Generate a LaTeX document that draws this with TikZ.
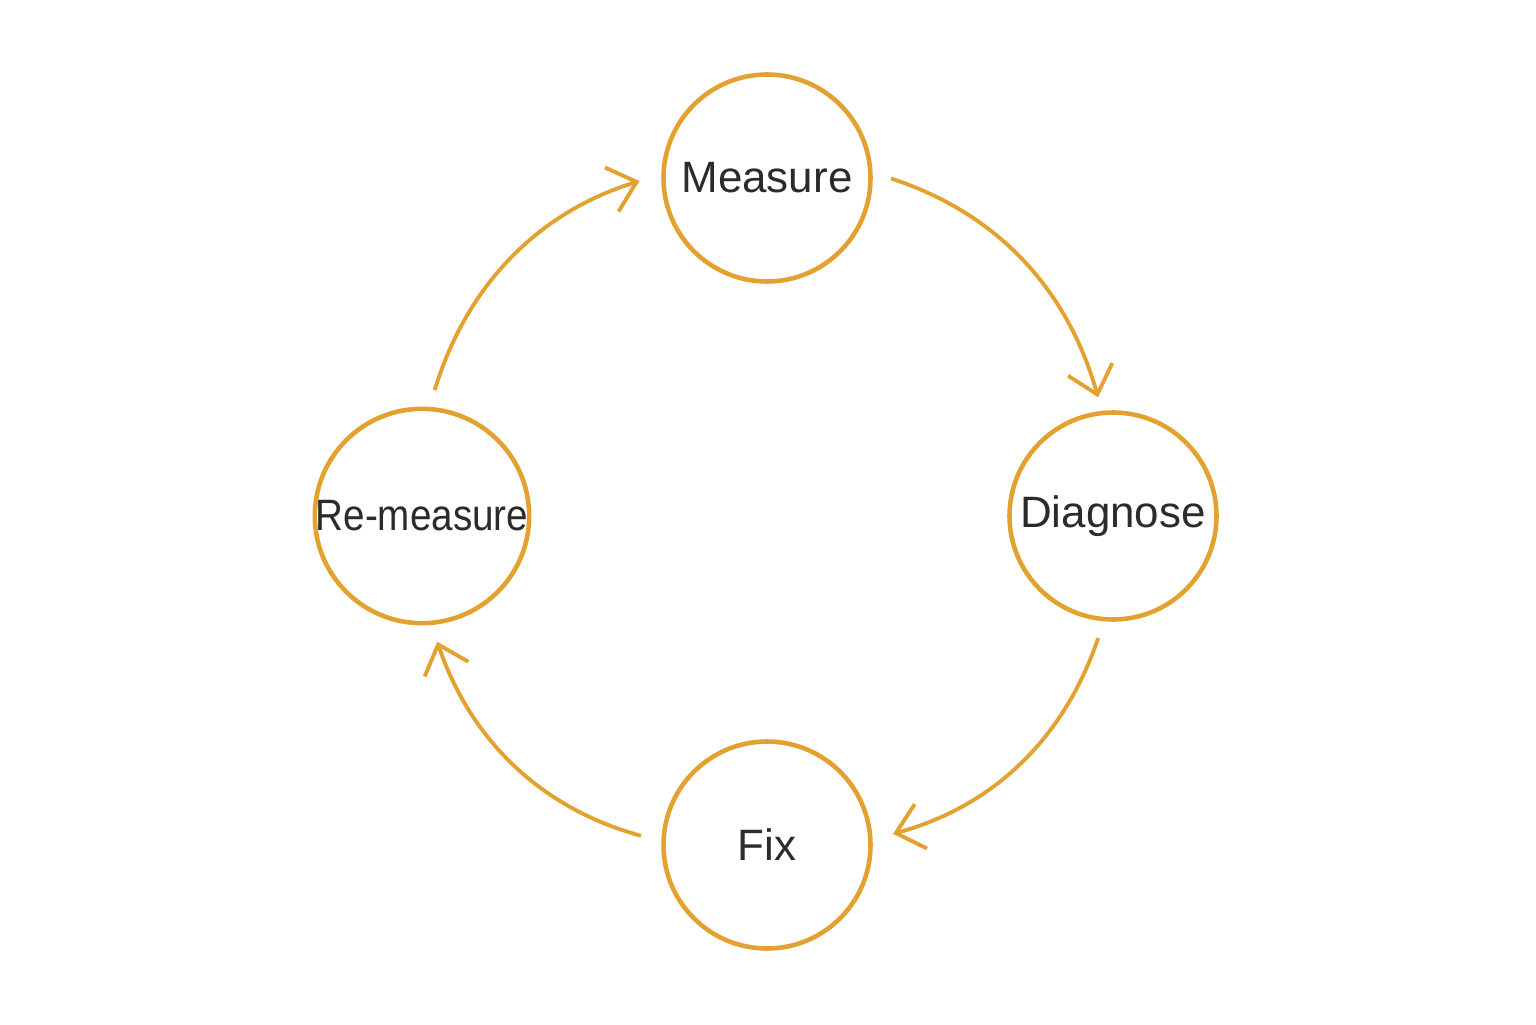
\documentclass[tikz,border=0pt]{standalone}
\usepackage{fontspec}
\setmainfont{Liberation Sans}
\usetikzlibrary{arrows.meta}
\definecolor{cycleorange}{HTML}{E3A12F}
\definecolor{cycletext}{HTML}{2B2B2B}

\begin{document}
\begin{tikzpicture}
      [
        Step/.style={draw=cycleorange, line width=1.3pt, circle, minimum size=2.07cm, inner sep=0pt,
          text=cycletext, font=\fontsize{12.5}{15}\selectfont},
        Flow/.style={draw=cycleorange, line width=1.1pt, -{Straight Barb[length=2.6mm, width=4.6mm]}, bend left=28},
      ]
      \useasboundingbox (0,0) rectangle (15.36,10.24);

      \node [Step] (measure) at (7.67,8.46) {Measure};
      \node [Step] (diagnose) at (11.13,5.08) {Diagnose};
      \node [Step] (fix) at (7.67,1.79) {Fix};
      \node [Step] (remeasure) at (4.22,5.08) {\addfontfeature{FakeStretch=0.88}Re-measure};

      \draw [Flow, shorten <=5.5pt, shorten >=4pt] (measure.3) to (diagnose.96);
      \draw [Flow, shorten <=5pt, shorten >=6pt] (diagnose.-95) to (fix.3);
      \draw [Flow, shorten <=6pt, shorten >=5pt] (fix.178) to (remeasure.-85);
      \draw [Flow, shorten <=5pt, shorten >=6.5pt] (remeasure.86) to (measure.178);
    \end{tikzpicture}
\end{document}
